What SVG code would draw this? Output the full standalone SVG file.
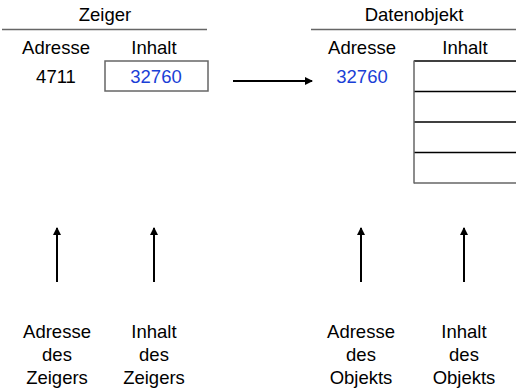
<svg xmlns="http://www.w3.org/2000/svg" width="516" height="390" viewBox="0 0 516 390">
<style>
text{font-family:"Liberation Sans",Arial,sans-serif;font-size:18.5px;fill:#000;text-anchor:middle}
.v{fill:#1a3fd6}
.g{stroke:#666;stroke-width:1.5;fill:none}
.k{stroke:#000;stroke-width:1.5;fill:none}
.a{stroke:#000;stroke-width:2;fill:none;marker-end:url(#ah)}
</style>
<defs>
<marker id="ah" viewBox="0 0 8 8" refX="7" refY="4" markerWidth="4" markerHeight="4" orient="auto" markerUnits="strokeWidth">
<path d="M0,0 L8,4 L0,8 Z" fill="#000"/>
</marker>
</defs>
<g id="zeiger">
<text x="105" y="21">Zeiger</text>
<line class="g" x1="2" y1="29.5" x2="207" y2="29.5"/>
<text x="56" y="54">Adresse</text>
<text x="154" y="54">Inhalt</text>
<text x="56" y="83">4711</text>
<rect class="g" x="105" y="61" width="103" height="30"/>
<text class="v" x="156" y="83">32760</text>
</g>
<g id="datenobjekt">
<text x="414" y="21">Datenobjekt</text>
<line class="g" x1="311" y1="29.5" x2="516" y2="29.5"/>
<text x="362" y="54">Adresse</text>
<text x="465" y="54">Inhalt</text>
<text class="v" x="362" y="83">32760</text>
<line class="k" x1="414" y1="61" x2="516" y2="61"/>
<line class="k" x1="414" y1="91.5" x2="516" y2="91.5"/>
<line class="k" x1="414" y1="122" x2="516" y2="122"/>
<line class="k" x1="414" y1="152.5" x2="516" y2="152.5"/>
<line class="g" x1="414" y1="183" x2="516" y2="183"/>
<line class="g" x1="414" y1="60.5" x2="414" y2="183.5"/>
</g>
<g id="labels">
<text x="57" y="338">Adresse</text>
<text x="57" y="361">des</text>
<text x="57" y="384">Zeigers</text>
<text x="154" y="338">Inhalt</text>
<text x="154" y="361">des</text>
<text x="154" y="384">Zeigers</text>
<text x="361" y="338">Adresse</text>
<text x="361" y="361">des</text>
<text x="361" y="384">Objekts</text>
<text x="464" y="338">Inhalt</text>
<text x="464" y="361">des</text>
<text x="464" y="384">Objekts</text>
</g>
<g id="connectors">
<line class="a" x1="233" y1="81" x2="312" y2="81"/>
<line class="a" x1="57" y1="282" x2="57" y2="228"/>
<line class="a" x1="154" y1="282" x2="154" y2="228"/>
<line class="a" x1="361" y1="282" x2="361" y2="228"/>
<line class="a" x1="464" y1="282" x2="464" y2="228"/>
</g>
</svg>
